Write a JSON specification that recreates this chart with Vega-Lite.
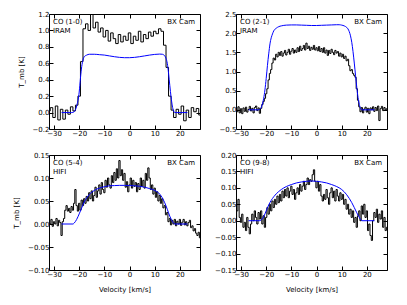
{
"$schema": "https://vega.github.io/schema/vega-lite/v6.json",
"background": "white",
"padding": {"left": 12, "top": 9, "right": 5, "bottom": 5},
"config": {
  "font": "DejaVu Sans",
  "view": {"stroke": "black", "strokeWidth": 1},
  "axis": {"domain": false, "grid": false, "tickColor": "black", "tickSize": -4, "labelPadding": 4, "labelFontSize": 7, "labelColor": "black", "labelOverlap": false, "labelFlush": false, "titleFontSize": 7, "titleFontWeight": "normal", "titleColor": "black", "titlePadding": 8}
},
"columns": 2,
"spacing": {"row": 26, "column": 36},
"bounds": "flush",
"datasets": {
"o1": [{"v":-32,"T":0.02},{"v":-31,"T":0.06},{"v":-30,"T":-0.06},{"v":-29,"T":0.08},{"v":-28,"T":-0.09},{"v":-27,"T":0.04},{"v":-26,"T":-0.08},{"v":-25,"T":0.03},{"v":-24,"T":-0.02},{"v":-23,"T":0.07},{"v":-22,"T":0.02},{"v":-21,"T":0.09},{"v":-20,"T":0.2},{"v":-19,"T":0.62},{"v":-18,"T":1.02},{"v":-17,"T":1.08},{"v":-16,"T":1.0},{"v":-15,"T":1.2},{"v":-14,"T":1.03},{"v":-13,"T":1.1},{"v":-12,"T":0.98},{"v":-11,"T":1.03},{"v":-10,"T":0.92},{"v":-9,"T":1.0},{"v":-8,"T":0.87},{"v":-7,"T":0.97},{"v":-6,"T":0.9},{"v":-5,"T":0.84},{"v":-4,"T":0.95},{"v":-3,"T":0.86},{"v":-2,"T":0.93},{"v":-1,"T":0.88},{"v":0,"T":0.97},{"v":1,"T":0.84},{"v":2,"T":0.93},{"v":3,"T":0.88},{"v":4,"T":0.99},{"v":5,"T":0.86},{"v":6,"T":0.95},{"v":7,"T":0.9},{"v":8,"T":0.98},{"v":9,"T":0.93},{"v":10,"T":0.99},{"v":11,"T":0.96},{"v":12,"T":1.02},{"v":13,"T":0.99},{"v":14,"T":0.82},{"v":15,"T":0.55},{"v":16,"T":0.2},{"v":17,"T":0.03},{"v":18,"T":-0.06},{"v":19,"T":0.04},{"v":20,"T":-0.02},{"v":21,"T":0.08},{"v":22,"T":-0.1},{"v":23,"T":0.03},{"v":24,"T":-0.06},{"v":25,"T":0.06},{"v":26,"T":0.01},{"v":27,"T":0.05},{"v":28,"T":-0.03}],
"m1": [{"v":-27,"T":0},{"v":-23,"T":0},{"v":-22,"T":0.01},{"v":-21,"T":0.08},{"v":-20,"T":0.25},{"v":-19.5,"T":0.42},{"v":-19,"T":0.56},{"v":-18.5,"T":0.64},{"v":-18,"T":0.68},{"v":-17,"T":0.7},{"v":-16,"T":0.71},{"v":-14,"T":0.71},{"v":-12,"T":0.705},{"v":-10,"T":0.7},{"v":-8,"T":0.69},{"v":-6,"T":0.68},{"v":-4,"T":0.672},{"v":-2,"T":0.668},{"v":0,"T":0.668},{"v":2,"T":0.672},{"v":4,"T":0.68},{"v":6,"T":0.69},{"v":8,"T":0.7},{"v":10,"T":0.708},{"v":12,"T":0.712},{"v":13,"T":0.71},{"v":14,"T":0.69},{"v":14.5,"T":0.66},{"v":15,"T":0.6},{"v":15.5,"T":0.48},{"v":16,"T":0.33},{"v":16.5,"T":0.19},{"v":17,"T":0.08},{"v":17.5,"T":0.02},{"v":18,"T":0},{"v":23,"T":0}],
"o2": [{"v":-32,"T":0.02},{"v":-31.5,"T":-0.05},{"v":-31,"T":0.08},{"v":-30.5,"T":-0.08},{"v":-30,"T":0.03},{"v":-29.5,"T":-0.1},{"v":-29,"T":0.05},{"v":-28.5,"T":-0.04},{"v":-28,"T":0.07},{"v":-27.5,"T":-0.06},{"v":-27,"T":0.01},{"v":-26.5,"T":0.09},{"v":-26,"T":-0.03},{"v":-25.5,"T":0.04},{"v":-25,"T":-0.08},{"v":-24.5,"T":0.06},{"v":-24,"T":0.1},{"v":-23.5,"T":-0.02},{"v":-23,"T":0.05},{"v":-22.5,"T":-0.09},{"v":-22,"T":0.04},{"v":-21.5,"T":0.14},{"v":-21,"T":0.22},{"v":-20.5,"T":0.3},{"v":-20,"T":0.42},{"v":-19.5,"T":0.55},{"v":-19,"T":0.78},{"v":-18.5,"T":0.95},{"v":-18,"T":1.05},{"v":-17.5,"T":1.22},{"v":-17,"T":1.35},{"v":-16.5,"T":1.3},{"v":-16,"T":1.45},{"v":-15.5,"T":1.38},{"v":-15,"T":1.5},{"v":-14.5,"T":1.42},{"v":-14,"T":1.52},{"v":-13.5,"T":1.4},{"v":-13,"T":1.48},{"v":-12.5,"T":1.55},{"v":-12,"T":1.43},{"v":-11.5,"T":1.5},{"v":-11,"T":1.58},{"v":-10.5,"T":1.45},{"v":-10,"T":1.53},{"v":-9.5,"T":1.6},{"v":-9,"T":1.48},{"v":-8.5,"T":1.56},{"v":-8,"T":1.5},{"v":-7.5,"T":1.62},{"v":-7,"T":1.52},{"v":-6.5,"T":1.66},{"v":-6,"T":1.55},{"v":-5.5,"T":1.6},{"v":-5,"T":1.68},{"v":-4.5,"T":1.56},{"v":-4,"T":1.74},{"v":-3.5,"T":1.6},{"v":-3,"T":1.66},{"v":-2.5,"T":1.55},{"v":-2,"T":1.63},{"v":-1.5,"T":1.58},{"v":-1,"T":1.68},{"v":-0.5,"T":1.56},{"v":0,"T":1.62},{"v":0.5,"T":1.54},{"v":1,"T":1.65},{"v":1.5,"T":1.52},{"v":2,"T":1.6},{"v":2.5,"T":1.5},{"v":3,"T":1.62},{"v":3.5,"T":1.48},{"v":4,"T":1.56},{"v":4.5,"T":1.42},{"v":5,"T":1.55},{"v":5.5,"T":1.47},{"v":6,"T":1.58},{"v":6.5,"T":1.5},{"v":7,"T":1.44},{"v":7.5,"T":1.55},{"v":8,"T":1.48},{"v":8.5,"T":1.52},{"v":9,"T":1.4},{"v":9.5,"T":1.48},{"v":10,"T":1.38},{"v":10.5,"T":1.45},{"v":11,"T":1.34},{"v":11.5,"T":1.4},{"v":12,"T":1.28},{"v":12.5,"T":1.32},{"v":13,"T":1.15},{"v":13.5,"T":1.02},{"v":14,"T":1.05},{"v":14.5,"T":0.95},{"v":15,"T":0.9},{"v":15.5,"T":0.85},{"v":16,"T":0.55},{"v":16.5,"T":0.25},{"v":17,"T":0.08},{"v":17.5,"T":-0.05},{"v":18,"T":0.06},{"v":18.5,"T":-0.08},{"v":19,"T":0.02},{"v":19.5,"T":0.07},{"v":20,"T":-0.06},{"v":20.5,"T":0.04},{"v":21,"T":-0.1},{"v":21.5,"T":0.05},{"v":22,"T":0.0},{"v":22.5,"T":0.08},{"v":23,"T":-0.04},{"v":23.5,"T":0.06},{"v":24,"T":-0.02},{"v":24.5,"T":0.1},{"v":25,"T":-0.28},{"v":25.5,"T":0.03},{"v":26,"T":0.09},{"v":26.5,"T":-0.02},{"v":27,"T":0.06},{"v":27.5,"T":0.0},{"v":28,"T":0.03}],
"m2": [{"v":-27,"T":0},{"v":-23,"T":0},{"v":-22.5,"T":0.02},{"v":-22,"T":0.06},{"v":-21.5,"T":0.15},{"v":-21,"T":0.3},{"v":-20.5,"T":0.52},{"v":-20,"T":0.82},{"v":-19.5,"T":1.16},{"v":-19,"T":1.46},{"v":-18.5,"T":1.72},{"v":-18,"T":1.88},{"v":-17.5,"T":1.98},{"v":-17,"T":2.06},{"v":-16,"T":2.13},{"v":-15,"T":2.17},{"v":-14,"T":2.19},{"v":-12,"T":2.21},{"v":-10,"T":2.215},{"v":-8,"T":2.215},{"v":-6,"T":2.21},{"v":-4,"T":2.205},{"v":-2,"T":2.2},{"v":0,"T":2.2},{"v":2,"T":2.205},{"v":4,"T":2.21},{"v":6,"T":2.215},{"v":8,"T":2.22},{"v":9,"T":2.22},{"v":10,"T":2.21},{"v":11,"T":2.19},{"v":12,"T":2.15},{"v":12.5,"T":2.11},{"v":13,"T":2.04},{"v":13.5,"T":1.93},{"v":14,"T":1.76},{"v":14.5,"T":1.52},{"v":15,"T":1.22},{"v":15.5,"T":0.9},{"v":16,"T":0.58},{"v":16.5,"T":0.32},{"v":17,"T":0.14},{"v":17.5,"T":0.04},{"v":18,"T":0},{"v":23,"T":0}],
"o3": [{"v":-32,"T":0.04},{"v":-31.5,"T":0.0},{"v":-31,"T":0.01},{"v":-30.5,"T":-0.005},{"v":-30,"T":0.005},{"v":-29.5,"T":0.0},{"v":-29,"T":0.012},{"v":-28.5,"T":-0.004},{"v":-28,"T":0.008},{"v":-27.5,"T":0.003},{"v":-27,"T":-0.025},{"v":-26.5,"T":0.005},{"v":-26,"T":0.012},{"v":-25.5,"T":0.03},{"v":-25,"T":0.04},{"v":-24.5,"T":0.028},{"v":-24,"T":0.034},{"v":-23.5,"T":0.025},{"v":-23,"T":0.038},{"v":-22.5,"T":0.03},{"v":-22,"T":0.045},{"v":-21.5,"T":0.075},{"v":-21,"T":0.04},{"v":-20.5,"T":0.028},{"v":-20,"T":0.045},{"v":-19.5,"T":0.03},{"v":-19,"T":0.052},{"v":-18.5,"T":0.04},{"v":-18,"T":0.055},{"v":-17.5,"T":0.045},{"v":-17,"T":0.06},{"v":-16.5,"T":0.05},{"v":-16,"T":0.068},{"v":-15.5,"T":0.055},{"v":-15,"T":0.072},{"v":-14.5,"T":0.05},{"v":-14,"T":0.062},{"v":-13.5,"T":0.08},{"v":-13,"T":0.058},{"v":-12.5,"T":0.072},{"v":-12,"T":0.085},{"v":-11.5,"T":0.065},{"v":-11,"T":0.09},{"v":-10.5,"T":0.075},{"v":-10,"T":0.068},{"v":-9.5,"T":0.095},{"v":-9,"T":0.08},{"v":-8.5,"T":0.1},{"v":-8,"T":0.085},{"v":-7.5,"T":0.078},{"v":-7,"T":0.105},{"v":-6.5,"T":0.09},{"v":-6,"T":0.112},{"v":-5.5,"T":0.095},{"v":-5,"T":0.12},{"v":-4.5,"T":0.1},{"v":-4,"T":0.138},{"v":-3.5,"T":0.105},{"v":-3,"T":0.118},{"v":-2.5,"T":0.095},{"v":-2,"T":0.11},{"v":-1.5,"T":0.08},{"v":-1,"T":0.092},{"v":-0.5,"T":0.07},{"v":0,"T":0.085},{"v":0.5,"T":0.1},{"v":1,"T":0.078},{"v":1.5,"T":0.095},{"v":2,"T":0.082},{"v":2.5,"T":0.09},{"v":3,"T":0.07},{"v":3.5,"T":0.088},{"v":4,"T":0.075},{"v":4.5,"T":0.1},{"v":5,"T":0.082},{"v":5.5,"T":0.095},{"v":6,"T":0.078},{"v":6.5,"T":0.11},{"v":7,"T":0.095},{"v":7.5,"T":0.122},{"v":8,"T":0.1},{"v":8.5,"T":0.075},{"v":9,"T":0.085},{"v":9.5,"T":0.065},{"v":10,"T":0.078},{"v":10.5,"T":0.058},{"v":11,"T":0.07},{"v":11.5,"T":0.05},{"v":12,"T":0.062},{"v":12.5,"T":0.045},{"v":13,"T":0.055},{"v":13.5,"T":0.035},{"v":14,"T":0.04},{"v":14.5,"T":0.02},{"v":15,"T":0.025},{"v":15.5,"T":0.005},{"v":16,"T":0.012},{"v":16.5,"T":-0.002},{"v":17,"T":0.008},{"v":17.5,"T":0.0},{"v":18,"T":0.01},{"v":18.5,"T":-0.004},{"v":19,"T":0.006},{"v":19.5,"T":0.0},{"v":20,"T":0.01},{"v":20.5,"T":-0.003},{"v":21,"T":0.004},{"v":21.5,"T":0.01},{"v":22,"T":-0.002},{"v":22.5,"T":0.005},{"v":23,"T":-0.004},{"v":23.5,"T":0.003},{"v":24,"T":0.008},{"v":24.5,"T":-0.008},{"v":25,"T":-0.004},{"v":25.5,"T":-0.015},{"v":26,"T":-0.01},{"v":26.5,"T":-0.02},{"v":27,"T":-0.025},{"v":27.5,"T":-0.018},{"v":28,"T":-0.03}],
"m3": [{"v":-27,"T":0},{"v":-22.5,"T":0},{"v":-22,"T":0.002},{"v":-21,"T":0.01},{"v":-20,"T":0.022},{"v":-19,"T":0.035},{"v":-18,"T":0.048},{"v":-17,"T":0.057},{"v":-16,"T":0.064},{"v":-15,"T":0.069},{"v":-14,"T":0.073},{"v":-12,"T":0.078},{"v":-10,"T":0.081},{"v":-8,"T":0.083},{"v":-6,"T":0.0835},{"v":-4,"T":0.084},{"v":-2,"T":0.084},{"v":0,"T":0.0835},{"v":2,"T":0.083},{"v":4,"T":0.082},{"v":6,"T":0.08},{"v":8,"T":0.077},{"v":10,"T":0.073},{"v":11,"T":0.07},{"v":12,"T":0.065},{"v":13,"T":0.057},{"v":14,"T":0.046},{"v":15,"T":0.032},{"v":16,"T":0.017},{"v":17,"T":0.006},{"v":17.5,"T":0.002},{"v":18,"T":0},{"v":23,"T":0}],
"o4": [{"v":-32,"T":0.0},{"v":-31.5,"T":0.03},{"v":-31,"T":0.065},{"v":-30.5,"T":0.01},{"v":-30,"T":-0.005},{"v":-29.5,"T":0.02},{"v":-29,"T":-0.02},{"v":-28.5,"T":-0.005},{"v":-28,"T":-0.03},{"v":-27.5,"T":0.01},{"v":-27,"T":-0.02},{"v":-26.5,"T":-0.04},{"v":-26,"T":-0.01},{"v":-25.5,"T":0.02},{"v":-25,"T":0.0},{"v":-24.5,"T":0.03},{"v":-24,"T":0.01},{"v":-23.5,"T":-0.01},{"v":-23,"T":0.025},{"v":-22.5,"T":0.005},{"v":-22,"T":0.03},{"v":-21.5,"T":-0.01},{"v":-21,"T":0.015},{"v":-20.5,"T":-0.02},{"v":-20,"T":0.01},{"v":-19.5,"T":0.04},{"v":-19,"T":0.02},{"v":-18.5,"T":0.05},{"v":-18,"T":0.03},{"v":-17.5,"T":0.06},{"v":-17,"T":0.04},{"v":-16.5,"T":0.065},{"v":-16,"T":0.05},{"v":-15.5,"T":0.075},{"v":-15,"T":0.055},{"v":-14.5,"T":0.08},{"v":-14,"T":0.06},{"v":-13.5,"T":0.09},{"v":-13,"T":0.07},{"v":-12.5,"T":0.095},{"v":-12,"T":0.075},{"v":-11.5,"T":0.1},{"v":-11,"T":0.07},{"v":-10.5,"T":0.09},{"v":-10,"T":0.105},{"v":-9.5,"T":0.08},{"v":-9,"T":0.095},{"v":-8.5,"T":0.065},{"v":-8,"T":0.085},{"v":-7.5,"T":0.1},{"v":-7,"T":0.08},{"v":-6.5,"T":0.11},{"v":-6,"T":0.09},{"v":-5.5,"T":0.105},{"v":-5,"T":0.12},{"v":-4.5,"T":0.095},{"v":-4,"T":0.11},{"v":-3.5,"T":0.13},{"v":-3,"T":0.11},{"v":-2.5,"T":0.125},{"v":-2,"T":0.12},{"v":-1.5,"T":0.14},{"v":-1,"T":0.155},{"v":-0.5,"T":0.12},{"v":0,"T":0.1},{"v":0.5,"T":0.12},{"v":1,"T":0.09},{"v":1.5,"T":0.11},{"v":2,"T":0.075},{"v":2.5,"T":0.06},{"v":3,"T":0.08},{"v":3.5,"T":0.065},{"v":4,"T":0.095},{"v":4.5,"T":0.07},{"v":5,"T":0.05},{"v":5.5,"T":0.085},{"v":6,"T":0.1},{"v":6.5,"T":0.07},{"v":7,"T":0.09},{"v":7.5,"T":0.06},{"v":8,"T":0.095},{"v":8.5,"T":0.075},{"v":9,"T":0.06},{"v":9.5,"T":0.085},{"v":10,"T":0.065},{"v":10.5,"T":0.08},{"v":11,"T":0.05},{"v":11.5,"T":0.065},{"v":12,"T":0.035},{"v":12.5,"T":0.05},{"v":13,"T":0.02},{"v":13.5,"T":0.035},{"v":14,"T":0.01},{"v":14.5,"T":0.03},{"v":15,"T":-0.005},{"v":15.5,"T":0.01},{"v":16,"T":-0.02},{"v":16.5,"T":0.015},{"v":17,"T":0.03},{"v":17.5,"T":0.0},{"v":18,"T":0.045},{"v":18.5,"T":0.02},{"v":19,"T":0.05},{"v":19.5,"T":0.01},{"v":20,"T":0.03},{"v":20.5,"T":-0.03},{"v":21,"T":-0.01},{"v":21.5,"T":-0.045},{"v":22,"T":-0.06},{"v":22.5,"T":0.0},{"v":23,"T":0.025},{"v":23.5,"T":0.01},{"v":24,"T":0.035},{"v":24.5,"T":-0.005},{"v":25,"T":0.02},{"v":25.5,"T":0.005},{"v":26,"T":0.03},{"v":26.5,"T":-0.02},{"v":27,"T":0.01},{"v":27.5,"T":-0.03},{"v":28,"T":-0.02}],
"m4": [{"v":-27,"T":0},{"v":-22.5,"T":0},{"v":-22,"T":0.002},{"v":-21,"T":0.012},{"v":-20,"T":0.03},{"v":-19,"T":0.048},{"v":-18,"T":0.062},{"v":-17,"T":0.073},{"v":-16,"T":0.082},{"v":-15,"T":0.089},{"v":-14,"T":0.095},{"v":-12,"T":0.104},{"v":-10,"T":0.11},{"v":-8,"T":0.115},{"v":-6,"T":0.118},{"v":-4,"T":0.12},{"v":-2,"T":0.121},{"v":0,"T":0.12},{"v":2,"T":0.118},{"v":4,"T":0.115},{"v":6,"T":0.11},{"v":8,"T":0.104},{"v":10,"T":0.095},{"v":11,"T":0.088},{"v":12,"T":0.079},{"v":13,"T":0.068},{"v":14,"T":0.055},{"v":15,"T":0.04},{"v":16,"T":0.024},{"v":17,"T":0.01},{"v":17.5,"T":0.004},{"v":18,"T":0},{"v":23,"T":0}]
},
"concat": [
{"width": 151, "height": 115, "resolve": {"axis": {"x": "independent", "y": "independent"}}, "layer": [
  {"data": {"name": "o1"}, "mark": {"type": "line", "interpolate": "step", "color": "black", "strokeWidth": 1, "clip": true},
   "encoding": {"x": {"field": "v", "type": "quantitative", "scale": {"domain": [-32, 28], "nice": false, "zero": false}, "axis": {"orient": "bottom", "values": [-30, -20, -10, 0, 10, 20], "format": "d", "title": null}},
                "y": {"field": "T", "type": "quantitative", "scale": {"domain": [-0.2, 1.2], "nice": false, "zero": false}, "axis": {"orient": "left", "values": [-0.2, 0, 0.2, 0.4, 0.6, 0.8, 1.0, 1.2], "format": ".1f", "title": "T_mb [K]"}}}},
  {"data": {"name": "m1"}, "mark": {"type": "line", "interpolate": "monotone", "color": "#0000ff", "strokeWidth": 1, "clip": true},
   "encoding": {"x": {"field": "v", "type": "quantitative", "axis": {"orient": "top", "labels": false, "title": null, "values": [-30, -20, -10, 0, 10, 20]}}, "y": {"field": "T", "type": "quantitative", "axis": {"orient": "right", "labels": false, "title": null, "values": [-0.2, 0, 0.2, 0.4, 0.6, 0.8, 1.0, 1.2]}}}},
  {"data": {"values": [{}]}, "mark": {"type": "text", "align": "left", "baseline": "top", "dx": 4, "dy": 4, "fontSize": 7, "lineHeight": 9, "text": ["CO (1-0)", "IRAM"]},
   "encoding": {"x": {"datum": -32, "axis": null}, "y": {"datum": 1.2, "axis": null}}},
  {"data": {"values": [{}]}, "mark": {"type": "text", "align": "right", "baseline": "top", "dx": -5, "dy": 4, "fontSize": 7, "text": "BX Cam"},
   "encoding": {"x": {"datum": 28, "axis": null}, "y": {"datum": 1.2, "axis": null}}}
]},
{"width": 151, "height": 115, "resolve": {"axis": {"x": "independent", "y": "independent"}}, "layer": [
  {"data": {"name": "o2"}, "mark": {"type": "line", "interpolate": "step", "color": "black", "strokeWidth": 1, "clip": true},
   "encoding": {"x": {"field": "v", "type": "quantitative", "scale": {"domain": [-32, 28], "nice": false, "zero": false}, "axis": {"orient": "bottom", "values": [-30, -20, -10, 0, 10, 20], "format": "d", "title": null}},
                "y": {"field": "T", "type": "quantitative", "scale": {"domain": [-0.5, 2.5], "nice": false, "zero": false}, "axis": {"orient": "left", "values": [-0.5, 0, 0.5, 1.0, 1.5, 2.0, 2.5], "format": ".1f", "title": null}}}},
  {"data": {"name": "m2"}, "mark": {"type": "line", "interpolate": "monotone", "color": "#0000ff", "strokeWidth": 1, "clip": true},
   "encoding": {"x": {"field": "v", "type": "quantitative", "axis": {"orient": "top", "labels": false, "title": null, "values": [-30, -20, -10, 0, 10, 20]}}, "y": {"field": "T", "type": "quantitative", "axis": {"orient": "right", "labels": false, "title": null, "values": [-0.5, 0, 0.5, 1.0, 1.5, 2.0, 2.5]}}}},
  {"data": {"values": [{}]}, "mark": {"type": "text", "align": "left", "baseline": "top", "dx": 4, "dy": 4, "fontSize": 7, "lineHeight": 9, "text": ["CO (2-1)", "IRAM"]},
   "encoding": {"x": {"datum": -32, "axis": null}, "y": {"datum": 2.5, "axis": null}}},
  {"data": {"values": [{}]}, "mark": {"type": "text", "align": "right", "baseline": "top", "dx": -5, "dy": 4, "fontSize": 7, "text": "BX Cam"},
   "encoding": {"x": {"datum": 28, "axis": null}, "y": {"datum": 2.5, "axis": null}}}
]},
{"width": 151, "height": 115, "resolve": {"axis": {"x": "independent", "y": "independent"}}, "layer": [
  {"data": {"name": "o3"}, "mark": {"type": "line", "interpolate": "step", "color": "black", "strokeWidth": 1, "clip": true},
   "encoding": {"x": {"field": "v", "type": "quantitative", "scale": {"domain": [-32, 28], "nice": false, "zero": false}, "axis": {"orient": "bottom", "values": [-30, -20, -10, 0, 10, 20], "format": "d", "title": "Velocity [km/s]"}},
                "y": {"field": "T", "type": "quantitative", "scale": {"domain": [-0.1, 0.15], "nice": false, "zero": false}, "axis": {"orient": "left", "values": [-0.1, -0.05, 0, 0.05, 0.1, 0.15], "format": ".2f", "title": "T_mb [K]"}}}},
  {"data": {"name": "m3"}, "mark": {"type": "line", "interpolate": "monotone", "color": "#0000ff", "strokeWidth": 1, "clip": true},
   "encoding": {"x": {"field": "v", "type": "quantitative", "axis": {"orient": "top", "labels": false, "title": null, "values": [-30, -20, -10, 0, 10, 20]}}, "y": {"field": "T", "type": "quantitative", "axis": {"orient": "right", "labels": false, "title": null, "values": [-0.1, -0.05, 0, 0.05, 0.1, 0.15]}}}},
  {"data": {"values": [{}]}, "mark": {"type": "text", "align": "left", "baseline": "top", "dx": 4, "dy": 4, "fontSize": 7, "lineHeight": 9, "text": ["CO (5-4)", "HIFI"]},
   "encoding": {"x": {"datum": -32, "axis": null}, "y": {"datum": 0.15, "axis": null}}},
  {"data": {"values": [{}]}, "mark": {"type": "text", "align": "right", "baseline": "top", "dx": -5, "dy": 4, "fontSize": 7, "text": "BX Cam"},
   "encoding": {"x": {"datum": 28, "axis": null}, "y": {"datum": 0.15, "axis": null}}}
]},
{"width": 151, "height": 115, "resolve": {"axis": {"x": "independent", "y": "independent"}}, "layer": [
  {"data": {"name": "o4"}, "mark": {"type": "line", "interpolate": "step", "color": "black", "strokeWidth": 1, "clip": true},
   "encoding": {"x": {"field": "v", "type": "quantitative", "scale": {"domain": [-32, 28], "nice": false, "zero": false}, "axis": {"orient": "bottom", "values": [-30, -20, -10, 0, 10, 20], "format": "d", "title": "Velocity [km/s]"}},
                "y": {"field": "T", "type": "quantitative", "scale": {"domain": [-0.15, 0.2], "nice": false, "zero": false}, "axis": {"orient": "left", "values": [-0.15, -0.1, -0.05, 0, 0.05, 0.1, 0.15, 0.2], "format": ".2f", "title": null}}}},
  {"data": {"name": "m4"}, "mark": {"type": "line", "interpolate": "monotone", "color": "#0000ff", "strokeWidth": 1, "clip": true},
   "encoding": {"x": {"field": "v", "type": "quantitative", "axis": {"orient": "top", "labels": false, "title": null, "values": [-30, -20, -10, 0, 10, 20]}}, "y": {"field": "T", "type": "quantitative", "axis": {"orient": "right", "labels": false, "title": null, "values": [-0.15, -0.1, -0.05, 0, 0.05, 0.1, 0.15, 0.2]}}}},
  {"data": {"values": [{}]}, "mark": {"type": "text", "align": "left", "baseline": "top", "dx": 4, "dy": 4, "fontSize": 7, "lineHeight": 9, "text": ["CO (9-8)", "HIFI"]},
   "encoding": {"x": {"datum": -32, "axis": null}, "y": {"datum": 0.2, "axis": null}}},
  {"data": {"values": [{}]}, "mark": {"type": "text", "align": "right", "baseline": "top", "dx": -5, "dy": 4, "fontSize": 7, "text": "BX Cam"},
   "encoding": {"x": {"datum": 28, "axis": null}, "y": {"datum": 0.2, "axis": null}}}
]}
]
}
